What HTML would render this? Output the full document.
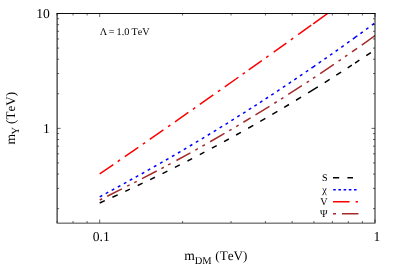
<!DOCTYPE html>
<html><head><meta charset="utf-8"><style>
html,body{margin:0;padding:0;background:#fff;}
body{width:399px;height:279px;position:relative;overflow:hidden;font-family:"Liberation Serif",serif;color:#000;}
</style></head><body>
<svg width="399" height="279" viewBox="0 0 399 279" style="position:absolute;left:0;top:0;will-change:transform">
<defs><clipPath id="cp"><rect x="57.1" y="13.5" width="317.9" height="209.5"/></clipPath></defs>
<g clip-path="url(#cp)" fill="none" stroke-width="1.5">
<path d="M99.70 173.89 L113.35 164.52 M124.80 156.63 L138.30 147.30 M149.75 139.37 L163.40 129.89 M175.00 121.80 L188.36 112.47 M199.80 104.45 L213.30 94.96 M224.76 86.89 L238.40 77.24 M248.70 69.94 L261.87 60.59 M273.70 52.16 L286.35 43.12 M298.10 34.70 L311.30 25.21 M313.20 23.84 L329.80 11.87 M117.70 161.53 L120.00 159.94 M142.85 144.16 L145.15 142.56 M168.05 126.65 L170.35 125.05 M192.92 109.27 L195.22 107.67 M217.91 91.72 L220.19 90.11 M242.66 74.23 L244.94 72.61 M266.16 57.53 L268.44 55.91 M290.92 39.84 L293.20 38.21" stroke="#ff0000"/>
<path d="M99.72 196.87 L102.28 195.48 M105.72 193.61 L108.28 192.21 M111.72 190.34 L114.28 188.94 M117.82 187.00 L120.38 185.59 M123.83 183.70 L126.37 182.29 M129.73 180.44 L132.27 179.03 M135.73 177.10 L138.27 175.69 M141.73 173.75 L144.27 172.33 M147.74 170.37 L150.26 168.94 M153.84 166.92 L156.36 165.48 M160.04 163.38 L162.56 161.93 M165.94 159.98 L168.46 158.53 M171.95 156.51 L174.45 155.05 M177.95 153.01 L180.45 151.54 M183.80 149.57 L186.30 148.10 M189.85 145.99 L192.35 144.51 M195.86 142.41 L198.34 140.92 M201.81 138.84 L204.29 137.34 M207.76 135.24 L210.24 133.73 M213.76 131.58 L216.24 130.06 M219.67 127.95 L222.13 126.43 M225.57 124.30 L228.03 122.77 M231.37 120.68 L233.83 119.14 M237.27 116.98 L239.73 115.43 M243.08 113.31 L245.52 111.76 M248.78 109.68 L251.22 108.12 M254.38 106.09 L256.82 104.52 M259.93 102.51 L262.37 100.93 M265.59 98.84 L268.01 97.25 M271.29 95.11 L273.71 93.52 M277.09 91.29 L279.51 89.69 M282.89 87.44 L285.31 85.84 M288.70 83.57 L291.10 81.96 M294.30 79.81 L296.70 78.19 M300.00 75.95 L302.40 74.32 M305.80 72.00 L308.20 70.37 M311.41 68.17 L313.79 66.52 M313.01 67.07 L315.39 65.42 M318.71 63.13 L321.09 61.48 M324.41 59.17 L326.79 57.51 M330.01 55.25 L332.39 53.58 M335.62 51.31 L337.98 49.63 M341.32 47.27 L343.68 45.59 M347.12 43.13 L349.48 41.45 M352.82 39.05 L355.18 37.35 M355.02 37.46 L357.38 35.76 M360.43 33.56 L362.77 31.85 M366.08 29.45 L368.42 27.74 M371.90 25.19 L374.24 23.47" stroke="#0000ff"/>
<path d="M107.20 196.22 L121.90 188.84 M142.00 178.65 L156.70 171.02 M176.40 160.51 L190.40 152.84 M210.10 141.76 L224.50 133.45 M243.40 122.26 L250.60 117.91 M255.50 114.93 L269.50 106.29 M288.25 94.46 L301.87 85.66 M320.15 73.61 L333.87 64.37 M352.00 51.90 L357.10 48.34 M361.76 45.07 L376.80 34.38 M99.74 199.99 L102.26 198.71 M127.15 186.20 L129.65 184.94 M134.25 182.61 L136.75 181.33 M161.36 168.56 L163.84 167.25 M168.17 164.94 L170.63 163.62 M195.38 150.07 L197.82 148.71 M202.38 146.14 L204.82 144.76 M229.19 130.70 L231.61 129.28 M236.20 126.56 L238.60 125.13 M274.36 103.25 L276.74 101.76 M281.07 99.03 L283.43 97.53 M306.63 82.55 L308.97 81.02 M312.98 78.37 L315.32 76.82 M338.54 61.18 L340.86 59.60 M345.05 56.71 L347.35 55.12" stroke="#a52a2a"/>
<path d="M99.70 202.99 L104.80 200.68 M112.40 197.23 L117.70 194.81 M125.30 191.31 L129.90 189.17 M137.70 185.51 L142.60 183.19 M150.20 179.55 L154.90 177.27 M162.50 173.55 L167.40 171.13 M174.90 167.38 L179.80 164.91 M187.50 160.98 L192.10 158.61 M199.80 154.60 L204.40 152.18 M211.90 148.20 L216.70 145.62 M224.05 141.64 L228.86 139.02 M236.10 135.02 L240.90 132.35 M248.20 128.25 L253.30 125.36 M260.25 121.38 L265.36 118.43 M272.30 114.39 L277.40 111.39 M284.20 107.36 L289.00 104.49 M296.05 100.24 L301.07 97.19 M308.10 92.89 L317.83 86.85 M324.75 82.52 L329.66 79.41 M336.28 75.20 L341.10 72.10 M347.70 67.84 L351.83 65.15 M355.04 63.05 L359.35 60.21 M366.27 55.63 L370.88 52.56" stroke="#000000"/>
</g>
<g stroke="#000" fill="none">
<path d="M57.1 13.1 V222.6" stroke-width="1"/>
<path d="M375 13.1 V222.6" stroke-width="0.9"/>
<path d="M56.6 13.5 H375.5" stroke-width="0.95"/>
<path d="M56.6 223.15 H375.5" stroke-width="0.75"/>
<path d="M57.06 223 v-2 M57.06 13.5 v2 M73.02 223 v-2 M73.02 13.5 v2 M87.10 223 v-2 M87.10 13.5 v2 M99.70 223 v-3.5 M99.70 13.5 v3.5 M182.57 223 v-2 M182.57 13.5 v2 M231.05 223 v-2 M231.05 13.5 v2 M265.45 223 v-2 M265.45 13.5 v2 M292.13 223 v-2 M292.13 13.5 v2 M313.93 223 v-2 M313.93 13.5 v2 M332.36 223 v-2 M332.36 13.5 v2 M348.32 223 v-2 M348.32 13.5 v2 M362.40 223 v-2 M362.40 13.5 v2 M375.00 223 v-3.5 M375.00 13.5 v3.5 M57.1 208.65 h2 M375 208.65 h-2 M57.1 188.42 h2 M375 188.42 h-2 M57.1 174.07 h2 M375 174.07 h-2 M57.1 162.94 h2 M375 162.94 h-2 M57.1 153.85 h2 M375 153.85 h-2 M57.1 146.16 h2 M375 146.16 h-2 M57.1 139.49 h2 M375 139.49 h-2 M57.1 133.62 h2 M375 133.62 h-2 M57.1 128.36 h3.5 M375 128.36 h-3.5 M57.1 93.79 h2 M375 93.79 h-2 M57.1 73.56 h2 M375 73.56 h-2 M57.1 59.21 h2 M375 59.21 h-2 M57.1 48.08 h2 M375 48.08 h-2 M57.1 38.98 h2 M375 38.98 h-2 M57.1 31.29 h2 M375 31.29 h-2 M57.1 24.63 h2 M375 24.63 h-2 M57.1 18.76 h2 M375 18.76 h-2 M57.1 13.50 h3.5 M375 13.50 h-3.5" stroke-width="0.6"/>
</g>
<g fill="none" stroke-width="1.6">
<path d="M333 177.7 h6.2M347.4 177.7 h5.6" stroke="#000"/>
<path d="M333.2 189.7 h24" stroke="#00f" stroke-dasharray="2.6 2.6"/>
<path d="M333 201.7 h16.6M355.6 201.7 h2.4" stroke="#f00"/>
<path d="M333 213.7 h3M342 213.7 h16.4" stroke="#a52a2a"/>
</g>
<g font-family="Liberation Serif, serif" fill="#000" text-rendering="geometricPrecision" style="font-kerning:none">
<text x="49.8" y="18.3" font-size="13.6" text-anchor="end">10</text>
<text x="49.8" y="132.9" font-size="13.6" text-anchor="end">1</text>
<text x="92.7" y="241" font-size="13.6">0.1</text>
<text x="373.5" y="241" font-size="13.6">1</text>
<text x="99.7" y="35" font-size="10.2" style="font-kerning:none">Λ<tspan dx="-1.0"> =</tspan><tspan dx="-0.35"> 1.0</tspan><tspan dx="-0.3"> TeV</tspan></text>
<text x="184.3" y="259.8" font-size="13.6">m<tspan font-size="10.5" dy="3.8" dx="-0.1">DM</tspan><tspan dy="-3.8" dx="0.3" font-size="13.1"> (TeV)</tspan></text>
<text transform="translate(14.8 144.6) rotate(-90)" font-size="13.6">m<tspan font-size="10.9" dy="4.2" dx="-0.7">Y</tspan><tspan dy="-4.2" dx="-0.4" font-size="13.1"> (TeV)</tspan></text>
<text x="327.6" y="181.2" font-size="10.2" text-anchor="end">S</text>
<text x="326.8" y="192.5" font-size="10.2" text-anchor="end">χ</text>
<text x="327.6" y="204.9" font-size="10.2" text-anchor="end">V</text>
<text x="327.6" y="216.9" font-size="10.2" text-anchor="end">Ψ</text>
</g>
</svg>
</body></html>
